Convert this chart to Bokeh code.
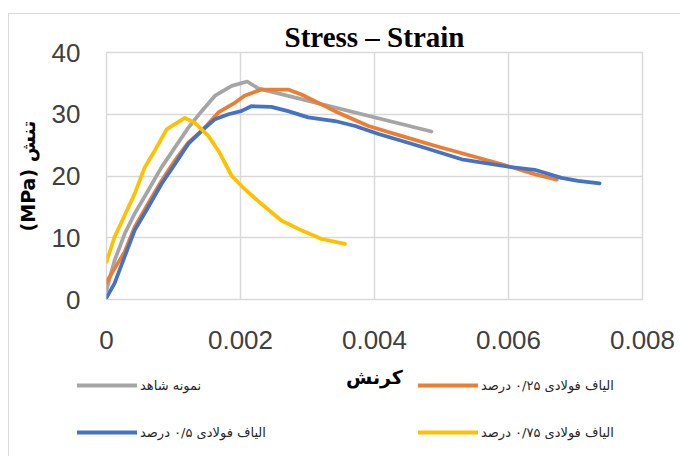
from bokeh.plotting import figure
from bokeh.layouts import column
from bokeh.models import Legend, LegendItem, FixedTicker, CustomJSTickFormatter, Range1d
from bokeh.embed import file_html
from bokeh.resources import INLINE

# ---- data ----
x_ticks = [0, 0.002, 0.004, 0.006, 0.008]
x_tick_labels = ["0", "0.002", "0.004", "0.006", "0.008"]
y_ticks = [0, 10, 20, 30, 40]
y_tick_labels = ["0", "10", "20", "30", "40"]

series_names = ["نمونه شاهد", "الیاف فولادی ۰/۲۵ درصد", "الیاف فولادی ۰/۵ درصد", "الیاف فولادی ۰/۷۵ درصد"]

control_strain = [0, 0.00012, 0.00027, 0.00042, 0.00062, 0.00082, 0.00102, 0.00122, 0.00142,
                  0.00162, 0.00187, 0.0021, 0.00226, 0.00485]
control_stress = [1.5, 6.3, 10.6, 13.9, 17.6, 21.4, 24.6, 27.8, 30.5, 33.0, 34.6, 35.3, 34.2, 27.2]

f025_strain = [0, 0.00012, 0.00027, 0.00042, 0.00062, 0.00082, 0.00102, 0.00122, 0.00142, 0.00167,
               0.00192, 0.00206, 0.00231, 0.00271, 0.00291, 0.00341, 0.00391, 0.0044, 0.0049,
               0.0059, 0.00639, 0.00672]
f025_stress = [2.8, 5.0, 7.7, 11.7, 15.5, 19.2, 22.5, 25.4, 27.3, 30.3, 31.9, 33.0, 34.0, 34.0,
               33.2, 30.5, 28.1, 26.5, 24.9, 21.9, 20.3, 19.4]

f05_strain = [0, 0.00012, 0.00027, 0.00042, 0.00062, 0.00082, 0.00102, 0.00122, 0.00142, 0.00162,
              0.00182, 0.00201, 0.00216, 0.00246, 0.00271, 0.00301, 0.00341, 0.00371, 0.00406,
              0.0044, 0.00465, 0.0053, 0.006, 0.00639, 0.00679, 0.00704, 0.00736]
f05_stress = [0.3, 2.6, 6.9, 11.2, 14.9, 18.7, 21.9, 25.2, 27.3, 29.2, 30.0, 30.5, 31.3, 31.2,
              30.5, 29.5, 28.9, 28.1, 26.8, 25.7, 24.9, 22.7, 21.5, 21.0, 19.7, 19.2, 18.8]

f075_strain = [0, 0.00012, 0.00027, 0.00042, 0.00057, 0.00072, 0.0009, 0.00102, 0.00117, 0.00132,
               0.00152, 0.00167, 0.00187, 0.00206, 0.00231, 0.00261, 0.00291, 0.00321, 0.00356]
f075_stress = [6.1, 10.1, 13.6, 17.1, 21.4, 24.1, 27.6, 28.4, 29.4, 28.6, 26.5, 24.1, 20.0, 17.9,
               15.5, 12.8, 11.2, 9.8, 9.0]

colors = ["#a5a5a5", "#ed7d31", "#4472c4", "#ffc000"]
series = [(control_strain, control_stress), (f025_strain, f025_stress),
          (f05_strain, f05_stress), (f075_strain, f075_stress)]

# ---- main chart ----
p = figure(width=672, height=443, x_range=Range1d(0, 0.008), y_range=Range1d(0, 40),
           output_backend="svg", toolbar_location=None,
           min_border_left=97, min_border_right=39, min_border_top=38, min_border_bottom=158,
           margin=(13, 0, 0, 8), frame_align=False)
p.styles = {"border-top": "1px solid #d9d9d9", "border-left": "1px solid #d9d9d9"}

p.title.text = "Stress – Strain"
p.title.text_font = "Liberation Serif"
p.title.text_font_size = "29px"
p.title.text_font_style = "bold"
p.title.text_color = "#000000"
p.title.align = "center"
p.title.standoff = 0

p.outline_line_color = "#d9d9d9"
p.outline_line_width = 1.5
p.xgrid.grid_line_color = "#d9d9d9"
p.ygrid.grid_line_color = "#d9d9d9"
p.xgrid.grid_line_width = 1.5
p.ygrid.grid_line_width = 1.5

p.xaxis.ticker = FixedTicker(ticks=x_ticks)
p.yaxis.ticker = FixedTicker(ticks=y_ticks)
p.xaxis.formatter = CustomJSTickFormatter(args=dict(labels=x_tick_labels), code="return labels[index];")
p.yaxis.formatter = CustomJSTickFormatter(args=dict(labels=y_tick_labels), code="return labels[index];")

for ax in (p.xaxis, p.yaxis):
    ax.axis_line_color = None
    ax.major_tick_line_color = None
    ax.minor_tick_line_color = None
    ax.major_tick_out = 0
    ax.major_tick_in = 0
    ax.major_label_text_font = "Liberation Sans"
    ax.major_label_text_font_size = "26px"
    ax.major_label_text_color = "#404040"
    ax.axis_label_text_font = "DejaVu Sans"
    ax.axis_label_text_font_style = "bold"
    ax.axis_label_text_font_size = "19px"
    ax.axis_label_text_color = "#000000"

p.xaxis.major_label_standoff = 31
p.yaxis.major_label_standoff = 26
p.xaxis.axis_label = "کرنش"
p.yaxis.axis_label = "(MPa) تنش"
p.xaxis.axis_label_standoff = 14
p.yaxis.axis_label_standoff = 10

for (xs, ys), c in zip(series, colors):
    p.line(xs, ys, line_color=c, line_width=3.75, line_join="round", line_cap="round")

# ---- legend strip (overlaps the bottom of the chart, transparent) ----
leg_h = 86
q = figure(width=672, height=leg_h, x_range=Range1d(0, 1), y_range=Range1d(-2, -1),
           output_backend="svg", toolbar_location=None,
           x_axis_location=None, y_axis_location=None,
           min_border_left=0, min_border_right=0, min_border_top=0, min_border_bottom=0,
           margin=(-leg_h, 0, 0, 8), frame_align=False)
q.grid.visible = False
q.outline_line_color = None
q.background_fill_color = None
q.border_fill_color = None

# legend swatches: same series, drawn outside this strip's visible range
proxies = [q.line(xs, ys, line_color=c, line_width=4, line_cap="round")
           for (xs, ys), c in zip(series, colors)]


def make_legend(idx, loc):
    return Legend(items=[LegendItem(label=series_names[i], renderers=[proxies[i]]) for i in idx],
                  location=loc, orientation="vertical", spacing=27, glyph_width=60, glyph_height=20,
                  label_height=20, label_standoff=3, padding=0, margin=0,
                  border_line_color=None, background_fill_alpha=0,
                  label_text_font="DejaVu Sans", label_text_font_size="13px",
                  label_text_color="#262626")


q.add_layout(make_legend([0, 2], (69, 14)))
q.add_layout(make_legend([1, 3], (410, 14)))

layout = column(p, q)
open("out.html", "w").write(file_html(layout, INLINE))
